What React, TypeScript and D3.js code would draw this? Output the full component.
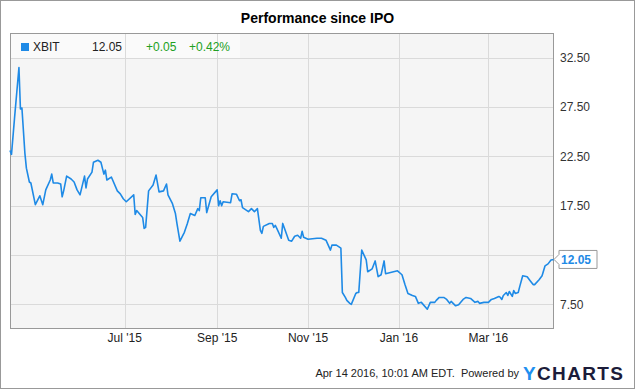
import * as d3 from "d3";

const dates = [
  "2015-04-15", "2015-04-16", "2015-04-18", "2015-04-21", "2015-04-22", "2015-04-23", "2015-04-25", "2015-04-26",
  "2015-04-28", "2015-04-29", "2015-05-02", "2015-05-05", "2015-05-07", "2015-05-09", "2015-05-12", "2015-05-13",
  "2015-05-14", "2015-05-17", "2015-05-19", "2015-05-20", "2015-05-21", "2015-05-23", "2015-05-26", "2015-05-28",
  "2015-05-30", "2015-06-01", "2015-06-04", "2015-06-05", "2015-06-06", "2015-06-09", "2015-06-10", "2015-06-13",
  "2015-06-15", "2015-06-17", "2015-06-18", "2015-06-19", "2015-06-22", "2015-06-26", "2015-06-28", "2015-06-30",
  "2015-07-02", "2015-07-07", "2015-07-08", "2015-07-09", "2015-07-13", "2015-07-14", "2015-07-15", "2015-07-17",
  "2015-07-20", "2015-07-22", "2015-07-24", "2015-07-27", "2015-07-29", "2015-07-30", "2015-08-02", "2015-08-04",
  "2015-08-05", "2015-08-07", "2015-08-10", "2015-08-12", "2015-08-14", "2015-08-17", "2015-08-19", "2015-08-20",
  "2015-08-21", "2015-08-24", "2015-08-25", "2015-08-28", "2015-09-01", "2015-09-02", "2015-09-03", "2015-09-04",
  "2015-09-05", "2015-09-10", "2015-09-11", "2015-09-14", "2015-09-16", "2015-09-17", "2015-09-18", "2015-09-22",
  "2015-09-24", "2015-09-26", "2015-09-28", "2015-09-30", "2015-10-01", "2015-10-02", "2015-10-06", "2015-10-08",
  "2015-10-09", "2015-10-10", "2015-10-11", "2015-10-14", "2015-10-15", "2015-10-19", "2015-10-21", "2015-10-23",
  "2015-10-25", "2015-10-27", "2015-10-28", "2015-10-29", "2015-11-01", "2015-11-07", "2015-11-10", "2015-11-13",
  "2015-11-16", "2015-11-17", "2015-11-20", "2015-11-23", "2015-11-24", "2015-11-26", "2015-11-27", "2015-11-29",
  "2015-11-30", "2015-12-03", "2015-12-04", "2015-12-05", "2015-12-07", "2015-12-10", "2015-12-11", "2015-12-14",
  "2015-12-16", "2015-12-18", "2015-12-20", "2015-12-22", "2015-12-23", "2015-12-27", "2015-12-31", "2016-01-03",
  "2016-01-05", "2016-01-07", "2016-01-10", "2016-01-12", "2016-01-14", "2016-01-16", "2016-01-20", "2016-01-22",
  "2016-01-25", "2016-01-26", "2016-01-28", "2016-01-31", "2016-02-02", "2016-02-04", "2016-02-05", "2016-02-08",
  "2016-02-10", "2016-02-13", "2016-02-15", "2016-02-18", "2016-02-21", "2016-02-23", "2016-02-24", "2016-02-27",
  "2016-03-01", "2016-03-03", "2016-03-05", "2016-03-08", "2016-03-09", "2016-03-10", "2016-03-11", "2016-03-13",
  "2016-03-14", "2016-03-15", "2016-03-17", "2016-03-18", "2016-03-19", "2016-03-21", "2016-03-22", "2016-03-24",
  "2016-03-27", "2016-03-29", "2016-03-31", "2016-04-01", "2016-04-04", "2016-04-06", "2016-04-08", "2016-04-10",
  "2016-04-12", "2016-04-14",
];

const prices = [
  23.1, 22.7, 26.3, 31.5, 27.3, 27.4, 22.8, 21.3,
  19.9, 19.8, 17.6, 18.5, 17.6, 19.1, 20.1, 20.7,
  19.8, 19.8, 19.7, 18.4, 19.0, 20.5, 20.2, 19.9,
  19.1, 18.6, 20.5, 19.3, 20.2, 20.9, 21.9, 22.1,
  21.9, 20.7, 21.1, 20.1, 20.4, 19.0, 18.7, 18.2,
  17.9, 18.6, 16.6, 17.0, 16.3, 15.2, 15.3, 19.0,
  19.6, 20.6, 18.9, 19.0, 19.7, 18.6, 17.7, 16.7,
  15.7, 13.9, 14.8, 15.7, 16.7, 16.5, 17.2, 17.0,
  18.3, 18.3, 16.8, 18.4, 19.1, 17.5, 18.0, 17.5,
  17.9, 17.8, 18.7, 18.65, 18.0, 18.1, 17.3, 16.9,
  17.2, 16.9, 17.2, 15.0, 14.7, 15.4, 15.7, 15.7,
  15.3, 15.5, 15.2, 14.2, 15.7, 14.0, 13.9, 14.4,
  14.5, 14.2, 14.9, 14.3, 14.1, 14.2, 14.2, 14.0,
  13.0, 13.5, 13.5, 13.2, 8.7, 8.2, 7.9, 7.6,
  7.5, 8.6, 8.7, 8.7, 13.0, 12.0, 10.8, 11.1,
  11.9, 10.3, 10.5, 11.9, 10.6, 10.75, 10.9, 10.5,
  9.5, 8.6, 8.4, 8.3, 7.6, 7.7, 7.0, 7.7,
  7.7, 7.9, 8.2, 8.2, 8.0, 7.6, 7.8, 7.35,
  7.45, 8.0, 8.2, 8.1, 7.7, 7.8, 7.6, 7.7,
  7.7, 8.0, 8.1, 8.3, 8.2, 8.0, 8.4, 8.7,
  8.4, 8.8, 8.3, 8.9, 8.6, 8.7, 9.3, 10.4,
  10.3, 9.9, 9.5, 9.5, 10.0, 10.4, 11.4, 11.6,
  12.0, 12.05,
];

const yTicks = [7.5, 12.5, 17.5, 22.5, 27.5, 32.5];
const xTicks = ["2015-07-01", "2015-09-01", "2015-11-01", "2016-01-01", "2016-03-01"];

const ticker = "XBIT";
const lastPrice = "12.05";
const change = "+0.05";
const changePct = "+0.42%";
const title = "Performance since IPO";
const footer = "Apr 14 2016, 10:01 AM EDT.  Powered by";

const W = 635;
const H = 389;
const plot = { left: 10, right: 554, top: 33, bottom: 329 };
const lineColor = "#1e8ae6";
const font = "'Liberation Sans', Arial, sans-serif";

const parse = d3.timeParse("%Y-%m-%d");

export default function App() {
  const data = dates.map((d, i) => ({ date: parse(d) as Date, value: prices[i] }));

  const x = d3
    .scaleTime()
    .domain([parse("2015-04-15") as Date, parse("2016-04-14") as Date])
    .range([plot.left, plot.right]);
  const y = d3.scaleLinear().domain([5, 35]).range([plot.bottom, plot.top]);

  const line = d3
    .line<{ date: Date; value: number }>()
    .x((d) => x(d.date))
    .y((d) => y(d.value));

  const fmtTick = d3.timeFormat("%b '%y");
  const last = data[data.length - 1];
  const ly = y(last.value);

  return (
    <svg width={W} height={H} style={{ display: "block", fontFamily: font }}>
      <style>{`body{margin:0}`}</style>
      <rect x={0.5} y={0.5} width={W - 1} height={H - 1} fill="#fff" stroke="#999" />

      <text x={W / 2} y={23} textAnchor="middle" fontSize={14} fontWeight="bold" fill="#000">
        {title}
      </text>

      {/* plot area */}
      <rect x={plot.left} y={plot.top} width={plot.right - plot.left} height={plot.bottom - plot.top} fill="#f5f5f5" />
      <rect x={plot.left} y={plot.top} width={230} height={25} fill="#fafafa" />

      {yTicks.map((t) => (
        <line
          key={"h" + t}
          x1={plot.left}
          x2={plot.right}
          y1={Math.round(y(t)) + 0.5}
          y2={Math.round(y(t)) + 0.5}
          stroke="#dadada"
        />
      ))}
      {xTicks.map((t) => {
        const xx = Math.round(x(parse(t) as Date)) + 0.5;
        return <line key={"v" + t} x1={xx} x2={xx} y1={plot.top} y2={plot.bottom} stroke="#dadada" />;
      })}

      <rect
        x={plot.left + 0.5}
        y={plot.top + 0.5}
        width={plot.right - plot.left - 1}
        height={plot.bottom - plot.top - 1}
        fill="none"
        stroke="#999"
      />

      {/* legend */}
      <rect x={21} y={43} width={8} height={8} fill={lineColor} />
      <text x={33} y={51} fontSize={12} fill="#222">{ticker}</text>
      <text x={122} y={51} fontSize={12} fill="#222" textAnchor="end">{lastPrice}</text>
      <text x={146} y={51} fontSize={12} fill="#22a022">{change}</text>
      <text x={189} y={51} fontSize={12} fill="#22a022">{changePct}</text>

      <path d={line(data) ?? ""} fill="none" stroke={lineColor} strokeWidth={1.6} strokeLinejoin="round" />

      {/* right axis */}
      {yTicks.map((t) => (
        <text key={"yl" + t} x={560} y={y(t)} dy="0.35em" fontSize={12} fill="#333">
          {t.toFixed(2)}
        </text>
      ))}

      {/* bottom axis */}
      {xTicks.map((t) => (
        <text key={"xl" + t} x={x(parse(t) as Date)} y={342} textAnchor="middle" fontSize={12} fill="#222">
          {fmtTick(parse(t) as Date)}
        </text>
      ))}

      {/* price flag */}
      <path
        d={`M${plot.right},${ly} L${plot.right + 5},${ly - 5} V${ly - 9} H597 V${ly + 9} H${plot.right + 5} V${ly + 5} Z`}
        fill="#fff"
        stroke="#999"
      />
      <text x={561} y={ly} dy="0.37em" fontSize={12} fontWeight="bold" fill={lineColor}>
        {lastPrice}
      </text>

      {/* footer */}
      <text x={519} y={377} textAnchor="end" fontSize={11} fill="#222" xmlSpace="preserve">
        {footer}
      </text>
      <text x={523} y={380} fontSize={19} fontWeight="bold" textLength={100} lengthAdjust="spacing">
        <tspan fill="#1e90f0">Y</tspan>
        <tspan fill="#1c1c3a">CHARTS</tspan>
      </text>
    </svg>
  );
}
